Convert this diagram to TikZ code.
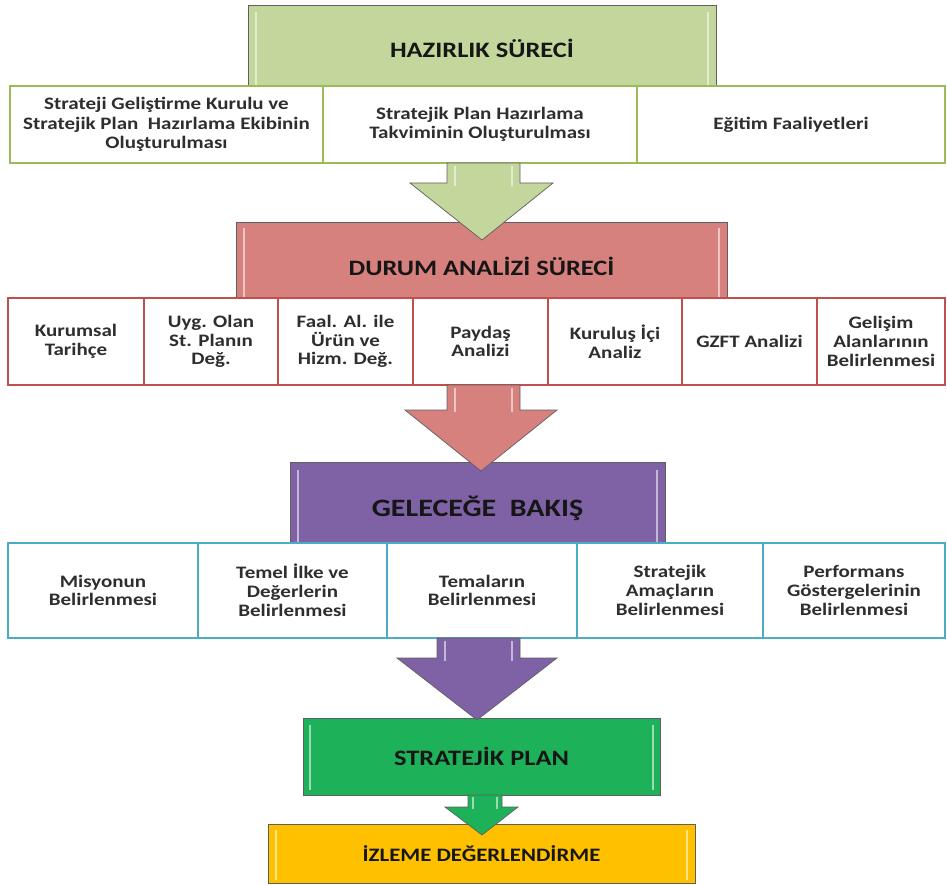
\documentclass[tikz,border=0pt]{standalone}
\usepackage{fontspec}
\setmainfont[FakeStretch=1.2]{Carlito}
\usetikzlibrary{calc}
\definecolor{hgreen}{HTML}{C3D69B}
\definecolor{hred}{HTML}{D7817E}
\definecolor{hpurple}{HTML}{7F62A6}
\definecolor{hsp}{HTML}{1DB25A}
\definecolor{hyel}{HTML}{FFC000}
\definecolor{bgreen}{HTML}{9BBB59}
\definecolor{bred}{HTML}{C0504D}
\definecolor{bteal}{HTML}{4BACC6}
\definecolor{hborder}{HTML}{5F5F5F}
\definecolor{txt}{HTML}{2E2E2E}
\definecolor{htxt}{HTML}{161616}
\tikzset{
  hdr/.style={draw=hborder, line width=0.9pt, inner sep=0pt, text=htxt, font=\bfseries\fontsize{22}{24}\selectfont},
  cell/.style={fill=white, line width=2pt, inner sep=0pt, align=center, text=txt, font=\bfseries\fontsize{17.5}{18.8}\selectfont},
  cellG/.style={cell, draw=bgreen},
  cellR/.style={cell, draw=bred},
  cellT/.style={cell, draw=bteal},
  blockarrow/.style={draw=hborder, line width=0.7pt, line join=miter},
  shine/.style={draw=white, opacity=0.55, line width=2.5pt}
}
\begin{document}
\begin{tikzpicture}[x=1pt,y=-1pt]
\useasboundingbox (0,0) rectangle (947,885);

% ---------- headers ----------
\node[hdr, fill=hgreen, minimum width=468, minimum height=86] (h1) at (482,48) {HAZIRLIK SÜRECİ};
\node[hdr, fill=hred, minimum width=491, minimum height=88] (h2) at (481.5,266) {DURUM ANALİZİ SÜRECİ};
\node[hdr, fill=hpurple, minimum width=375, minimum height=92, font=\bfseries\fontsize{25}{27}\selectfont] (h3) at (477.5,508) {GELECEĞE\ \ BAKIŞ};
\node[hdr, fill=hsp, minimum width=357, minimum height=77, font=\bfseries\fontsize{22}{24}\selectfont] (sp) at (481.5,756.5) {STRATEJİK PLAN};
\node[hdr, fill=hyel, minimum width=427, minimum height=59, font=\bfseries\fontsize{19}{21}\selectfont] (iz) at (481.5,854) {İZLEME DEĞERLENDİRME};

% highlights on headers
\draw[shine] (256,12) -- (256,86);  \draw[shine] (708,12) -- (708,86);
\draw[shine] (244,228) -- (244,298); \draw[shine] (719,228) -- (719,298);
\draw[shine] (298,470) -- (298,543); \draw[shine] (657,470) -- (657,543);
\draw[shine] (310,725) -- (310,790); \draw[shine] (653,725) -- (653,790);
\draw[shine] (276,830) -- (276,880); \draw[shine] (687,830) -- (687,880);

% ---------- row 1 ----------
\node[cellG, minimum width=313, minimum height=77, font=\bfseries\fontsize{17.5}{19.5}\selectfont] (a1) at (166.5,124.5) {Strateji Geliştirme Kurulu ve\\Stratejik Plan\ \ Hazırlama Ekibinin\\Oluşturulması};
\node[cellG, minimum width=314, minimum height=77, font=\bfseries\fontsize{17.5}{19.5}\selectfont] (a2) at (480,124.5) {Stratejik Plan Hazırlama\\Takviminin Oluşturulması};
\node[cellG, minimum width=308, minimum height=77] (a3) at (791,124.5) {Eğitim Faaliyetleri};

% ---------- row 2 ----------
\node[cellR, minimum width=136, minimum height=87] (b1) at (76,341.5) {Kurumsal\\Tarihçe};
\node[cellR, minimum width=134, minimum height=87] (b2) at (211,341.5) {Uyg. Olan\\St. Planın\\Değ.};
\node[cellR, minimum width=135, minimum height=87] (b3) at (345.5,341.5) {Faal. Al. ile\\Ürün ve\\Hizm. Değ.};
\node[cellR, minimum width=135, minimum height=87] (b4) at (480.5,341.5) {Paydaş\\Analizi};
\node[cellR, minimum width=134, minimum height=87] (b5) at (615,341.5) {Kuruluş İçi\\Analiz};
\node[cellR, minimum width=135, minimum height=87] (b6) at (749.5,341.5) {GZFT Analizi};
\node[cellR, minimum width=128, minimum height=87] (b7) at (881,341.5) {Gelişim\\Alanlarının\\Belirlenmesi};

% ---------- row 3 ----------
\node[cellT, minimum width=190, minimum height=95] (c1) at (103,590.5) {Misyonun\\Belirlenmesi};
\node[cellT, minimum width=189, minimum height=95] (c2) at (292.5,590.5) {Temel İlke ve\\Değerlerin\\Belirlenmesi};
\node[cellT, minimum width=190, minimum height=95] (c3) at (482,590.5) {Temaların\\Belirlenmesi};
\node[cellT, minimum width=186, minimum height=95] (c4) at (670,590.5) {Stratejik\\Amaçların\\Belirlenmesi};
\node[cellT, minimum width=182, minimum height=95] (c5) at (854,590.5) {Performans\\Göstergelerinin\\Belirlenmesi};

% ---------- block arrows ----------
\draw[blockarrow, fill=hgreen] (447,163) -- (520,163) -- (520,183) -- (553,183) -- (482,240) -- (410,183) -- (447,183) -- cycle;
\draw[shine] (455,166) -- (455,186); \draw[shine] (512,166) -- (512,186);

\draw[blockarrow, fill=hred] (447,385) -- (520,385) -- (520,410) -- (557,410) -- (481,471) -- (405,410) -- (447,410) -- cycle;
\draw[shine] (455,388) -- (455,412); \draw[shine] (512,388) -- (512,412);

\draw[blockarrow, fill=hpurple] (437,638) -- (520,638) -- (520,658) -- (557,658) -- (477,720) -- (397,658) -- (437,658) -- cycle;
\draw[shine] (445,641) -- (445,661); \draw[shine] (512,641) -- (512,661);

\draw[blockarrow, fill=hsp] (468,795) -- (502,795) -- (502,807) -- (518,807) -- (482,835) -- (445,807) -- (468,807) -- cycle;
\draw[shine] (473,797) -- (473,809); \draw[shine] (497,797) -- (497,809);
\end{tikzpicture}
\end{document}
